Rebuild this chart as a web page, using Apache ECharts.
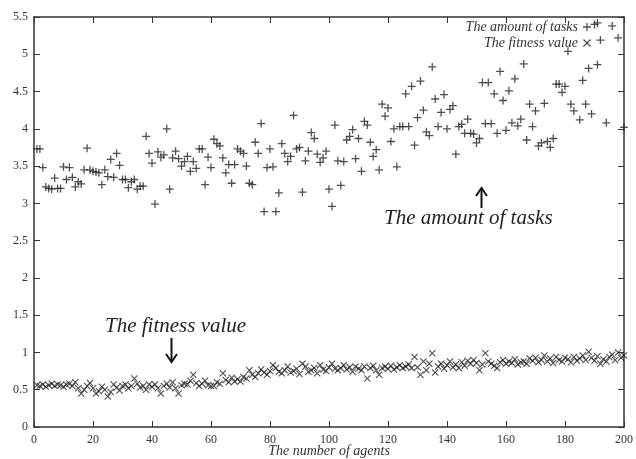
<!DOCTYPE html>
<html><head><meta charset="utf-8">
<script src="https://cdn.jsdelivr.net/npm/echarts@6/dist/echarts.min.js"></script>
<style>html,body{margin:0;padding:0;background:#fff}#c{width:636px;height:459px}</style>
</head><body><div id="c"></div>
<script>
const taskX = [1,2,3,4,5,6,7,8,9,10,11,12,13,14,15,16,17,18,19,20,21,22,23,24,25,26,27,28,29,30,31,32,33,34,35,36,37,38,39,40,41,42,43,44,45,46,47,48,49,50,51,52,53,54,55,56,57,58,59,60,61,62,63,64,65,66,67,68,69,70,71,72,73,74,75,76,77,78,79,80,81,82,83,84,85,86,87,88,89,90,91,92,93,94,95,96,97,98,99,100,101,102,103,104,105,106,107,108,109,110,111,112,113,114,115,116,117,118,119,120,121,122,123,124,125,126,127,128,129,130,131,132,133,134,135,136,137,138,139,140,141,142,143,144,145,146,147,148,149,150,151,152,153,154,155,156,157,158,159,160,161,162,163,164,165,166,167,168,169,170,171,172,173,174,175,176,177,178,179,180,181,182,183,185,186,187,188,189,190,191,191,192,194,196,198,200];
const taskY = [3.73,3.73,3.48,3.22,3.20,3.19,3.34,3.20,3.20,3.49,3.32,3.48,3.35,3.22,3.29,3.26,3.45,3.74,3.45,3.43,3.42,3.41,3.25,3.45,3.36,3.59,3.35,3.67,3.51,3.32,3.32,3.21,3.29,3.32,3.19,3.23,3.23,3.90,3.67,3.54,2.99,3.69,3.62,3.65,4.00,3.19,3.61,3.70,3.60,3.50,3.56,3.63,3.43,3.56,3.47,3.73,3.73,3.25,3.62,3.48,3.86,3.80,3.77,3.61,3.41,3.52,3.27,3.52,3.73,3.70,3.67,3.50,3.27,3.25,3.82,3.67,4.07,2.89,3.48,3.73,3.49,2.89,3.14,3.80,3.67,3.56,3.63,4.18,3.73,3.75,3.15,3.57,3.70,3.95,3.87,3.66,3.55,3.61,3.70,3.19,2.96,4.05,3.57,3.24,3.56,3.85,3.90,3.99,3.60,3.87,3.43,4.10,4.05,3.82,3.63,3.72,3.45,4.33,4.17,4.28,3.83,4.00,3.49,4.03,4.03,4.47,4.03,4.57,3.78,4.15,4.64,4.25,3.96,3.91,4.83,4.40,4.03,4.22,4.46,4.00,4.26,4.31,3.66,4.03,4.06,3.94,4.13,3.94,3.93,3.81,3.87,4.62,4.07,4.62,4.07,4.47,3.94,4.77,4.38,3.98,4.51,4.08,4.67,4.04,4.13,4.87,3.85,4.33,4.03,4.24,3.77,3.81,4.34,3.83,3.75,3.87,4.60,4.60,4.49,4.57,5.04,4.33,4.24,4.12,4.65,4.33,4.81,4.20,5.40,5.42,4.86,5.19,4.08,5.38,5.22,4.02];
const fitnessY = [
0.56,0.55,0.57,0.54,0.56,0.58,0.55,0.57,0.56,0.54,0.57,0.58,0.55,0.60,
0.52,0.45,0.50,0.55,0.59,0.52,0.45,0.48,0.54,0.50,0.41,0.47,0.57,0.53,0.49,0.55,
0.57,0.52,0.55,0.65,0.58,0.53,0.55,0.50,0.57,0.54,0.57,0.52,0.45,0.55,0.58,
0.53,0.60,0.52,0.45,0.56,0.58,0.57,0.62,0.70,0.59,0.55,0.58,0.62,0.56,0.55,
0.55,0.60,0.58,0.72,0.63,0.60,0.66,0.61,0.64,0.61,0.67,0.65,0.76,0.70,0.67,
0.72,0.77,0.73,0.70,0.75,0.83,0.79,0.74,0.72,0.76,0.81,0.73,0.75,0.78,0.71,
0.85,0.81,0.74,0.76,0.79,0.72,0.83,0.77,0.75,0.80,0.85,0.78,0.76,0.79,0.83,
0.77,0.80,0.74,0.81,0.78,0.76,0.81,0.65,0.79,0.82,0.76,0.70,0.79,0.81,0.78,
0.82,0.77,0.80,0.83,0.79,0.81,0.84,0.79,0.94,0.80,0.70,0.88,0.76,0.85,0.99,
0.73,0.81,0.85,0.78,0.83,0.88,0.80,0.84,0.79,0.87,0.82,0.89,0.85,0.90,0.86,
0.76,0.84,0.99,0.88,0.85,0.82,0.79,0.87,0.90,0.85,0.88,0.86,0.91,0.84,0.87,
0.88,0.85,0.92,0.89,0.93,0.87,0.90,0.96,0.88,0.92,0.86,0.94,0.90,0.88,0.93,
0.91,0.87,0.94,0.89,0.92,0.96,0.90,1.01,0.93,0.89,0.95,0.85,0.91,0.88,0.94,0.97,0.90,1.00,0.93,0.96];
const seriesNames = ['The amount of tasks', 'The fitness value'];
const xLabelName = 'The number of agents';
const annTasks = 'The amount of tasks';
const annFitness = 'The fitness value';

const PLUS = 'path://M4.2,0H5.8V4.2H10V5.8H5.8V10H4.2V5.8H0V4.2H4.2Z';
const CROSS = 'path://M0,1.1L1.1,0L5,3.9L8.9,0L10,1.1L6.1,5L10,8.9L8.9,10L5,6.1L1.1,10L0,8.9L3.9,5Z';
const serif = '"Liberation Serif","DejaVu Serif",serif';
const ink = '#222';

const chart = echarts.init(document.getElementById('c'), null, {renderer:'canvas'});
const axisCommon = {
  type:'value', min:0,
  axisLine:{show:true, onZero:false, lineStyle:{color:'#333', width:1.5}},
  axisTick:{show:true, inside:true, length:6, lineStyle:{color:'#333', width:1}},
  splitLine:{show:false}
};
chart.setOption({
  backgroundColor:'#fff',
  animation:false,
  grid:{left:34, right:12, top:17, bottom:32, outerBoundsMode:'none', containLabel:false},
  legend:{
    orient:'vertical', right:40, top:15, align:'right', itemGap:2,
    itemWidth:8, itemHeight:8,
    textStyle:{fontFamily:serif, fontStyle:'italic', fontSize:14, color:'#333', padding:[0,0,0,0]},
    data:[{name:seriesNames[0], icon:PLUS},{name:seriesNames[1], icon:CROSS}]
  },
  xAxis:[
    Object.assign({}, axisCommon, {max:200, interval:20, position:'bottom',
      axisLabel:{fontFamily:serif, fontSize:12, color:'#333', margin:7}}),
    Object.assign({}, axisCommon, {max:200, interval:20, position:'top', axisLabel:{show:false}})
  ],
  yAxis:[
    Object.assign({}, axisCommon, {max:5.5, interval:0.5, position:'left',
      axisLabel:{fontFamily:serif, fontSize:12, color:'#333', margin:6}}),
    Object.assign({}, axisCommon, {max:5.5, interval:0.5, position:'right', axisLabel:{show:false}})
  ],
  series:[
    {name:seriesNames[0], type:'scatter', symbol:PLUS, symbolSize:8,
     itemStyle:{color:ink}, data:taskX.map((x,i)=>[x, taskY[i]])},
    {name:seriesNames[1], type:'scatter', symbol:CROSS, symbolSize:7,
     itemStyle:{color:ink}, data:fitnessY.map((y,i)=>[i+1, y])}
  ],
  graphic:[
    {type:'text', x:329, y:451, style:{text:xLabelName, font:'italic 14px '+serif, fill:'#333', align:'center', verticalAlign:'middle'}},
    {type:'text', left:384, top:208, style:{text:annTasks, font:'italic 21px '+serif, fill:'#222'}},
    {type:'line', shape:{x1:481.5, y1:208, x2:481.5, y2:190}, style:{stroke:'#111', lineWidth:2}},
    {type:'polyline', shape:{points:[[476,196],[481.5,188],[487,196]]}, style:{stroke:'#111', lineWidth:2, fill:null}},
    {type:'text', left:105, top:316, style:{text:annFitness, font:'italic 21px '+serif, fill:'#222'}},
    {type:'line', shape:{x1:171.5, y1:338, x2:171.5, y2:360}, style:{stroke:'#111', lineWidth:2}},
    {type:'polyline', shape:{points:[[166,354],[171.5,362],[177,354]]}, style:{stroke:'#111', lineWidth:2, fill:null}}
  ]
});
</script></body></html>
